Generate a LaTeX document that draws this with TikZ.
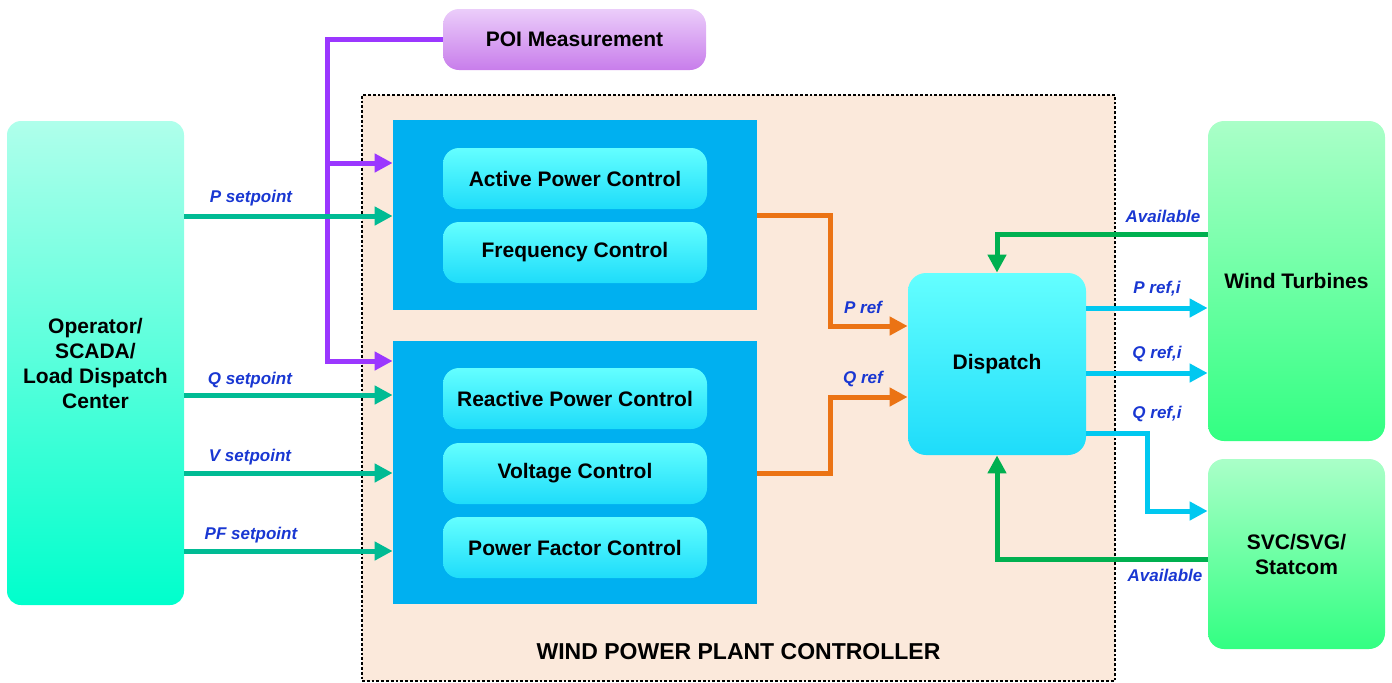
\documentclass[tikz,border=0pt]{standalone}
\usepackage{fontspec}
\setmainfont{Liberation Sans}
\usetikzlibrary{arrows.meta,calc}
\definecolor{opTop}{RGB}{175,255,235}
\definecolor{opBot}{RGB}{0,255,204}
\definecolor{poiTop}{RGB}{235,205,250}
\definecolor{poiBot}{RGB}{200,125,235}
\definecolor{blockblue}{RGB}{0,176,240}
\definecolor{innerTop}{RGB}{100,255,255}
\definecolor{innerBot}{RGB}{30,220,250}
\definecolor{wtTop}{RGB}{170,255,200}
\definecolor{wtBot}{RGB}{50,255,130}
\definecolor{frameFill}{RGB}{251,233,219}
\definecolor{pline}{RGB}{155,55,255}
\definecolor{sgreen}{RGB}{0,187,148}
\definecolor{oline}{RGB}{235,115,20}
\definecolor{agreen}{RGB}{0,176,80}
\definecolor{cline}{RGB}{0,200,240}
\definecolor{labelblue}{RGB}{25,55,210}
\begin{document}
\begin{tikzpicture}[x=0.5pt,y=-0.5pt,
  boxtext/.style={rectangle,inner sep=0pt,align=center,
    font=\fontsize{10.5}{12.5}\selectfont\bfseries},
  opbox/.style={boxtext,rounded corners=7pt,top color=opTop,bottom color=opBot},
  poibox/.style={boxtext,rounded corners=8pt,top color=poiTop,bottom color=poiBot},
  blkbox/.style={rectangle,inner sep=0pt,fill=blockblue},
  innerbox/.style={boxtext,rounded corners=8pt,top color=innerTop,bottom color=innerBot,
    minimum width=132pt,minimum height=30.5pt},
  wtbox/.style={boxtext,rounded corners=8pt,top color=wtTop,bottom color=wtBot},
  conn/.style={line width=2.5pt,line join=miter},
  tip/.style={-{Triangle[length=9pt,width=9pt]}},
  lbl/.style={inner sep=0pt,text=labelblue,font=\fontsize{8.5}{10}\selectfont\bfseries\itshape},
]
\useasboundingbox (0,0) rectangle (1392,682);

% frame
\node[rectangle,inner sep=0pt,fill=frameFill,draw=black,line width=0.7pt,
  dash pattern=on 1.4pt off 1pt,minimum width=376.5pt,minimum height=293pt]
  (frame) at (738.5,388) {};
\node[inner sep=0pt,font=\fontsize{11.5}{13}\selectfont\bfseries] (title) at (738.5,652)
  {WIND POWER PLANT CONTROLLER};

% boxes
\node[opbox,minimum width=88.5pt,minimum height=242pt] (op) at (95.5,363)
  {Operator/\\SCADA/\\Load Dispatch\\Center};
\node[poibox,minimum width=131.5pt,minimum height=30.5pt] (poi) at (574.5,39.5)
  {POI Measurement};
\node[blkbox,minimum width=182pt,minimum height=95pt] (upper) at (575,215) {};
\node[blkbox,minimum width=182pt,minimum height=131.5pt] (lower) at (575,472.5) {};
\node[innerbox] (apc) at (575,178.5) {Active Power Control};
\node[innerbox] (fc) at (575,252.5) {Frequency Control};
\node[innerbox] (rpc) at (575,398.5) {Reactive Power Control};
\node[innerbox] (vc) at (575,473.5) {Voltage Control};
\node[innerbox] (pfc) at (575,547.5) {Power Factor Control};
\node[boxtext,rounded corners=9pt,top color=innerTop,bottom color=innerBot,
  minimum width=89pt,minimum height=91pt] (disp) at (997,364) {Dispatch};
\node[wtbox,minimum width=88.5pt,minimum height=160pt] (wt) at (1296.5,281) {Wind Turbines};
\node[wtbox,minimum width=88.5pt,minimum height=95pt] (svc) at (1296.5,554) {SVC/SVG/\\Statcom};

% purple POI lines
\coordinate (pj1) at (327,163);
\coordinate (pj2) at (327,361);
\draw[conn,pline,tip] (poi.west) -| (pj2) -- (pj2 -| lower.west);
\draw[conn,pline,tip] (pj1) -- (pj1 -| upper.west);

% setpoints
\draw[conn,sgreen,tip] (op.east |- 0,216) -- (upper.west |- 0,216);
\draw[conn,sgreen,tip] (op.east |- 0,395) -- (lower.west |- 0,395);
\draw[conn,sgreen,tip] (op.east |- 0,473) -- (lower.west |- 0,473);
\draw[conn,sgreen,tip] (op.east |- 0,551) -- (lower.west |- 0,551);
\node[lbl,anchor=south] (lp) at (251,206) {P setpoint};
\node[lbl,anchor=south] (lq) at (250,388) {Q setpoint};
\node[lbl,anchor=south] (lv) at (250,465) {V setpoint};
\node[lbl,anchor=south] (lpf) at (251,543) {PF setpoint};

% orange refs
\coordinate (o1) at (830,215);
\coordinate (o2) at (830,473);
\draw[conn,oline,tip] (upper.east |- o1) -- (o1) |- (disp.west |- 0,326);
\draw[conn,oline,tip] (lower.east |- o2) -- (o2) |- (disp.west |- 0,397);
\node[lbl,anchor=south] (lpr) at (863,314) {P ref};
\node[lbl,anchor=south] (lqr) at (863,387) {Q ref};

% available
\draw[conn,agreen,tip] (wt.west |- 0,234) -| (disp.north);
\draw[conn,agreen,tip] (svc.west |- 0,559) -| (disp.south);
\node[lbl,anchor=south] (la1) at (1163,223) {Available};
\node[lbl,anchor=north] (la2) at (1165,569) {Available};

% cyan refs
\coordinate (c3) at (1147,433);
\draw[conn,cline,tip] (disp.east |- 0,308) -- (wt.west |- 0,308);
\draw[conn,cline,tip] (disp.east |- 0,373) -- (wt.west |- 0,373);
\draw[conn,cline,tip] (disp.east |- c3) -- (c3) |- (svc.west |- 0,511);
\node[lbl,anchor=south] (lpi) at (1157,297) {P ref,i};
\node[lbl,anchor=south] (lqi) at (1157,362) {Q ref,i};
\node[lbl,anchor=south] (lqi2) at (1157,422) {Q ref,i};
\end{tikzpicture}
\end{document}
